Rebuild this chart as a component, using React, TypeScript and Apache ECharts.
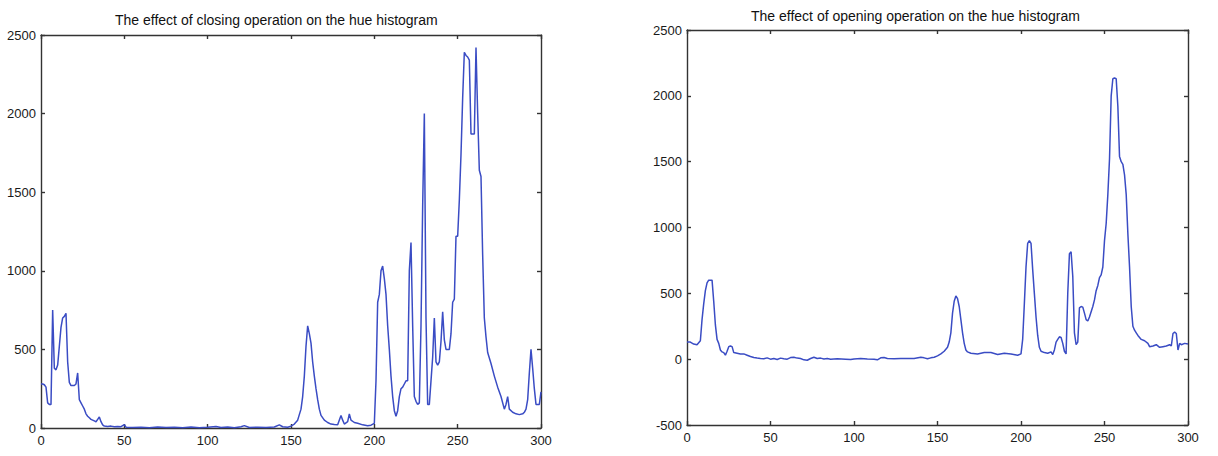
import React, { useEffect, useRef } from "react";
import * as echarts from "echarts";

// Hue histogram after morphological closing: [hue bin, pixel count]
const closingHist: number[][] = [
  [0, 280], [1, 280], [2, 275], [3, 260], [4, 160], [5, 150], [6, 150], [7, 750], [8, 380], [9, 370],
  [10, 400], [11, 520], [12, 640], [13, 700], [14, 710], [15, 730], [16, 420], [17, 290], [18, 270], [19, 270],
  [20, 270], [21, 280], [22, 350], [23, 180], [24, 160], [25, 140], [26, 120], [27, 90], [28, 75], [29, 65],
  [30, 55], [31, 50], [32, 45], [33, 40], [34, 55], [35, 70], [36, 40], [37, 20], [38, 12], [40, 10],
  [42, 12], [44, 8], [46, 10], [48, 8], [50, 22], [51, 5], [55, 3], [60, 5], [65, 2], [70, 6],
  [75, 3], [80, 5], [85, 2], [90, 6], [95, 2], [100, 5], [105, 10], [108, 3], [112, 6], [116, 2],
  [120, 8], [122, 15], [125, 3], [130, 5], [135, 3], [140, 6], [143, 20], [145, 8], [148, 5], [150, 12],
  [152, 25], [154, 50], [156, 120], [157, 200], [158, 330], [159, 520], [160, 650], [161, 600], [162, 540], [163, 420],
  [164, 330], [165, 250], [166, 180], [167, 120], [168, 80], [170, 50], [172, 35], [174, 25], [176, 22], [178, 20],
  [180, 80], [181, 50], [182, 25], [184, 40], [185, 90], [186, 50], [188, 35], [190, 30], [193, 20], [196, 15],
  [198, 18], [200, 30], [201, 300], [202, 800], [203, 850], [204, 1000], [205, 1030], [206, 950], [207, 850], [208, 650],
  [209, 500], [210, 330], [211, 200], [212, 110], [213, 75], [214, 110], [215, 200], [216, 250], [217, 260], [218, 280],
  [219, 300], [220, 300], [221, 1000], [222, 1180], [223, 650], [224, 200], [225, 170], [226, 150], [227, 160], [228, 650],
  [229, 1410], [230, 2000], [231, 700], [232, 150], [233, 150], [234, 300], [235, 450], [236, 700], [237, 420], [238, 400],
  [239, 420], [240, 550], [241, 740], [242, 560], [243, 500], [244, 500], [245, 500], [246, 600], [247, 800], [248, 820],
  [249, 1220], [250, 1220], [251, 1450], [252, 1740], [253, 2100], [254, 2390], [255, 2370], [256, 2360], [257, 2340], [258, 1870],
  [259, 1870], [260, 1870], [261, 2420], [262, 2000], [263, 1640], [264, 1600], [265, 1100], [266, 700], [267, 580], [268, 480],
  [270, 410], [272, 330], [274, 260], [276, 200], [278, 120], [279, 150], [280, 200], [281, 120], [283, 100], [285, 90],
  [287, 85], [289, 90], [290, 100], [291, 120], [292, 180], [293, 350], [294, 500], [295, 380], [296, 250], [297, 150],
  [298, 150], [299, 150], [300, 230],
];

// Hue histogram after morphological opening: [hue bin, pixel count]
const openingHist: number[][] = [
  [0, 130], [2, 130], [4, 115], [6, 110], [8, 140], [9, 300], [10, 420], [11, 520], [12, 580], [13, 600],
  [14, 600], [15, 600], [16, 440], [17, 260], [18, 150], [19, 120], [20, 70], [21, 55], [22, 50], [23, 30],
  [24, 60], [25, 95], [26, 100], [27, 95], [28, 50], [30, 45], [32, 40], [34, 40], [36, 30], [38, 20],
  [40, 12], [42, 8], [44, 5], [46, 3], [48, 10], [50, 0], [52, 5], [54, -2], [56, 8], [58, 3],
  [60, 0], [62, 12], [64, 15], [66, 8], [68, 5], [70, -5], [72, -8], [74, 5], [76, 15], [78, 5],
  [80, 8], [82, 2], [84, 5], [86, 0], [90, 3], [95, 0], [98, -3], [100, 2], [104, 5], [108, 2],
  [112, 0], [114, -5], [116, 10], [118, 12], [120, 5], [124, 3], [128, 5], [132, 6], [136, 5], [140, 15],
  [142, 10], [144, 3], [146, 10], [148, 15], [150, 25], [152, 40], [154, 60], [156, 90], [157, 130], [158, 200],
  [159, 350], [160, 440], [161, 480], [162, 460], [163, 400], [164, 300], [165, 200], [166, 120], [167, 70], [168, 55],
  [170, 45], [174, 40], [178, 50], [182, 50], [186, 35], [190, 45], [194, 40], [198, 30], [200, 40], [201, 150],
  [202, 420], [203, 700], [204, 880], [205, 900], [206, 880], [207, 680], [208, 500], [209, 320], [210, 180], [211, 90],
  [212, 60], [214, 50], [216, 45], [218, 55], [219, 35], [220, 70], [221, 130], [222, 150], [223, 170], [224, 165],
  [225, 120], [226, 60], [227, 40], [228, 500], [229, 800], [230, 815], [231, 630], [232, 200], [233, 110], [234, 130],
  [235, 390], [236, 400], [237, 395], [238, 350], [239, 300], [240, 290], [241, 320], [242, 360], [243, 400], [244, 450],
  [245, 520], [246, 560], [247, 620], [248, 640], [249, 700], [250, 900], [251, 1030], [252, 1250], [253, 1520], [254, 2000],
  [255, 2130], [256, 2135], [257, 2130], [258, 1920], [259, 1540], [260, 1500], [261, 1480], [262, 1400], [263, 1250], [264, 950],
  [265, 700], [266, 400], [267, 250], [268, 220], [269, 200], [270, 180], [272, 150], [274, 140], [276, 120], [277, 95],
  [279, 100], [281, 110], [283, 90], [285, 95], [287, 100], [289, 110], [290, 100], [291, 195], [292, 205], [293, 195],
  [294, 70], [295, 120], [296, 110], [298, 120], [300, 115],
];

const leftTitle = "The effect of closing operation on the hue histogram";
const rightTitle = "The effect of opening operation on the hue histogram";

const FONT = "'Liberation Sans', Arial, sans-serif";
const LINE_COLOR = "#3a4cc4";
const FRAME = "#333333";

const plain = (v: number) => String(v);

function xAxes(gridIndex: number) {
  const base = {
    type: "value" as const,
    gridIndex,
    min: 0,
    max: 300,
    interval: 50,
    splitLine: { show: false },
    axisLine: { show: true, onZero: false, lineStyle: { color: FRAME, width: 1.4 } },
    axisTick: { show: true, inside: true, length: 4, lineStyle: { color: FRAME, width: 1.4 } },
  };
  return [
    {
      ...base,
      position: "bottom" as const,
      axisLabel: { color: "#1a1a1a", fontSize: 13, fontFamily: FONT, margin: 6, formatter: plain },
    },
    { ...base, position: "top" as const, axisLabel: { show: false } },
  ];
}

function yAxes(gridIndex: number, min: number) {
  const base = {
    type: "value" as const,
    gridIndex,
    min,
    max: 2500,
    interval: 500,
    splitLine: { show: false },
    axisLine: { show: true, onZero: false, lineStyle: { color: FRAME, width: 1.4 } },
    axisTick: { show: true, inside: true, length: 4, lineStyle: { color: FRAME, width: 1.4 } },
  };
  return [
    {
      ...base,
      position: "left" as const,
      axisLabel: { color: "#1a1a1a", fontSize: 13, fontFamily: FONT, margin: 5, formatter: plain },
    },
    { ...base, position: "right" as const, axisLabel: { show: false } },
  ];
}

export default function App() {
  const ref = useRef<HTMLDivElement>(null);

  useEffect(() => {
    if (!ref.current) return;
    const chart = echarts.init(ref.current, undefined, { renderer: "svg" });
    chart.setOption({
      animation: false,
      backgroundColor: "#ffffff",
      title: [
        {
          text: leftTitle,
          left: 110,
          top: 8,
          textStyle: { fontSize: 14, fontWeight: "normal", color: "#111", fontFamily: FONT },
        },
        {
          text: rightTitle,
          left: 746,
          top: 4,
          textStyle: { fontSize: 14, fontWeight: "normal", color: "#111", fontFamily: FONT },
        },
      ],
      grid: [
        { left: 41, top: 35, width: 500, height: 393, containLabel: false },
        { left: 687, top: 30, width: 501, height: 395, containLabel: false },
      ],
      xAxis: [...xAxes(0), ...xAxes(1)],
      yAxis: [...yAxes(0, 0), ...yAxes(1, -500)],
      series: [
        {
          type: "line",
          xAxisIndex: 0,
          yAxisIndex: 0,
          data: closingHist,
          showSymbol: false,
          lineStyle: { color: LINE_COLOR, width: 1.5 },
        },
        {
          type: "line",
          xAxisIndex: 2,
          yAxisIndex: 2,
          data: openingHist,
          showSymbol: false,
          lineStyle: { color: LINE_COLOR, width: 1.5 },
        },
      ],
    });
    return () => chart.dispose();
  }, []);

  return (
    <div
      ref={ref}
      style={{ position: "fixed", left: 0, top: 0, width: 1218, height: 456 }}
    />
  );
}
